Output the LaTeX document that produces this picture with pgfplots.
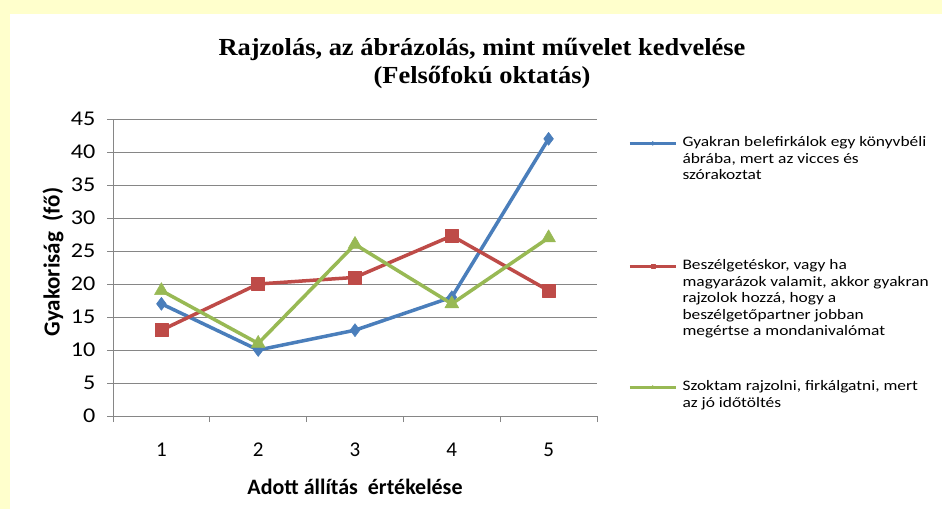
\documentclass[border=0pt]{standalone}
\usepackage{fontspec}
\setmainfont{Carlito}
\newfontfamily\titlefont{Liberation Serif}[FakeStretch=1.08]
\newfontfamily\legfont{Carlito}[FakeStretch=1.2]
\newfontfamily\ytickfont{Carlito}[FakeStretch=1.15]
\usepackage{pgfplots}
\pgfplotsset{compat=1.18}
\definecolor{bgyellow}{RGB}{255,255,204}
\definecolor{sblue}{RGB}{74,126,187}
\definecolor{sred}{RGB}{190,75,72}
\definecolor{sgreen}{RGB}{152,185,84}
\definecolor{gridcol}{RGB}{134,134,134}
\newcommand\lstrut[1]{\rule[-4pt]{0pt}{\dimexpr#1+4pt\relax}}
\begin{document}
\begin{tikzpicture}[x=1pt,y=1pt]
\useasboundingbox (0,0) rectangle (942,509);
\fill[bgyellow] (0,0) rectangle (942,509);
\fill[white] (10,0) rectangle (942,495);
\node[font=\titlefont\bfseries\fontsize{24.5}{28}\selectfont, align=center] at (482,446) {Rajzolás, az ábrázolás, mint művelet kedvelése\\(Felsőfokú oktatás)};
\node[font=\bfseries\fontsize{23}{24}\selectfont, rotate=90] at (53,247) {Gyakoriság \ (fő)};
\begin{axis}[
  at={(113pt,93pt)}, anchor=south west,
  width=484pt, height=297pt, scale only axis,
  xmin=0.5, xmax=5.5, ymin=0, ymax=45,
  xtick={0.5,1.5,2.5,3.5,4.5,5.5},
  x tick label as interval,
  xticklabels={1,2,3,4,5},
  ytick={0,5,...,45},
  /pgf/number format/assume math mode=true,
  ymajorgrids,
  grid style={gridcol, line width=1pt},
  axis x line*=bottom, axis y line*=left,
  axis line style={gridcol, line width=1pt},
  tick align=outside, major tick length=6pt,
  tick style={gridcol, line width=1pt},
  xticklabel style={font=\fontsize{21}{22}\selectfont, yshift=-17pt},
  yticklabel style={font=\ytickfont\fontsize{21}{22}\selectfont, xshift=-8pt},
  xlabel={Adott állítás \ értékelése},
  xlabel style={font=\bfseries\fontsize{22}{24}\selectfont, at={(axis description cs:0.5,-0.238)}, anchor=center},
  legend style={at={(axis description cs:1.0641,0.948)}, anchor=north west, draw=none, fill=none, inner sep=0pt, outer sep=0pt, row sep=0pt, column sep=5pt, cells={anchor=base west}, nodes={inner sep=0pt, font=\legfont\fontsize{14.5}{16.5}\selectfont}},
  legend image code/.code={\draw[#1, line width=3.5pt, mark repeat=2, mark phase=2, mark size=2pt] plot coordinates {(0pt,3.5pt) (23pt,3.5pt) (46pt,3.5pt)};},
  clip=false,
]
\addplot[sblue, line width=3.5pt, line join=round, mark=diamond*, mark size=6.5pt, mark options={solid, line width=0.5pt}] coordinates {(1,17)(2,10)(3,13)(4,18)(5,42)};
\addlegendentry{\lstrut{12.5pt}Gyakran belefirkálok egy könyvbéli}
\addlegendimage{empty legend}\addlegendentry{\lstrut{15pt}ábrába, mert az vicces és}
\addlegendimage{empty legend}\addlegendentry{\lstrut{15pt}szórakoztat}
\addplot[sred, line width=3.5pt, line join=round, mark=square*, mark size=6.5pt, mark options={solid, line width=0.5pt}] coordinates {(1,13)(2,20)(3,21)(4,27.3)(5,19)};
\addlegendentry{\lstrut{88.5pt}Beszélgetéskor, vagy ha}
\addlegendimage{empty legend}\addlegendentry{\lstrut{15pt}magyarázok valamit, akkor gyakran}
\addlegendimage{empty legend}\addlegendentry{\lstrut{15pt}rajzolok hozzá, hogy a}
\addlegendimage{empty legend}\addlegendentry{\lstrut{15pt}beszélgetőpartner jobban}
\addlegendimage{empty legend}\addlegendentry{\lstrut{15pt}megértse a mondanivalómat}
\addplot[sgreen, line width=3.5pt, line join=round, mark=triangle*, mark size=8pt, mark options={solid, line width=0.5pt}] coordinates {(1,19)(2,11)(3,26)(4,17)(5,27)};
\addlegendentry{\lstrut{53.5pt}Szoktam rajzolni, firkálgatni, mert}
\addlegendimage{empty legend}\addlegendentry{\lstrut{15pt}az jó időtöltés}
\end{axis}
\end{tikzpicture}
\end{document}
